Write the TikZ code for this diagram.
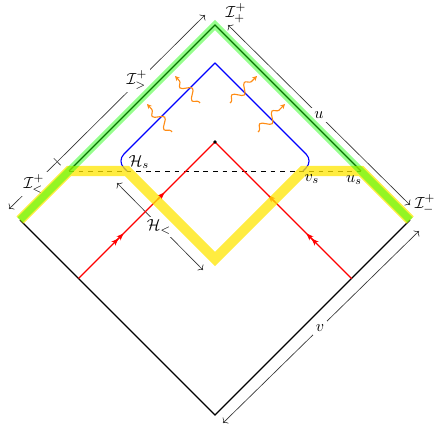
\documentclass[tikz,border=0pt]{standalone}
\usetikzlibrary{arrows.meta,decorations.pathmorphing,calc}
\definecolor{hlyellow}{RGB}{255,230,0}
\definecolor{waveorange}{RGB}{255,140,20}
\begin{document}
\begin{tikzpicture}[x=0.625pt,y=-0.625pt,
  edge/.style={line width=0.7pt,black},
  glowgreen/.style={line width=4.6pt,green!90!lime,opacity=0.45,line join=miter},
  glowyellow/.style={line width=6.4pt,hlyellow,opacity=0.75,line join=miter},
  meas/.style={line width=0.4pt,black!80},
  lbl/.style={fill=white,inner sep=2pt},
  txt/.style={inner sep=1pt},
  redline/.style={red,line width=0.7pt},
  onetip/.style={red,line width=0.7pt,-{Stealth[length=4.5pt,width=3.4pt]}},
  twotip/.style={red,line width=0.7pt,-{Stealth[length=4.5pt,width=3.4pt]Stealth[length=4.5pt,width=3.4pt]}},
  wave/.style={waveorange,line width=0.7pt,decorate,
    decoration={snake,amplitude=2.8pt,segment length=11pt,pre length=1pt,post length=2.5pt},
    -{Stealth[length=3pt,width=3pt]}}
]
\useasboundingbox (0,0) rectangle (440,433);
% key points
\coordinate (L) at (20,220);
\coordinate (T) at (215,25);
\coordinate (R) at (410,220);
\coordinate (B) at (215,415);
\coordinate (HL) at (69,171);
\coordinate (HR) at (361,171);
\coordinate (Hs) at (127,171);
\coordinate (vs) at (303,171);
\coordinate (V) at (215,259);
\coordinate (Rt) at (215,142);
\coordinate (RL) at (78.5,278.5);
\coordinate (RR) at (351.5,278.5);
\coordinate (bl1) at (117,161);
\coordinate (btop) at (215,63);
\coordinate (br1) at (313,161);
% measurement arrows
\coordinate (tk) at (57,162);
\coordinate (a1) at (205,15);
\coordinate (a2) at (9,209);
\coordinate (u1) at (228,25);
\coordinate (u2) at (410,205);
\coordinate (v1) at (223,423);
\coordinate (v2) at (419,231);
\coordinate (h1) at (117,183);
\coordinate (h2) at (203,270);
\draw[meas,{Bar[width=6pt]}-{To}] (tk) -- (a1);
\draw[meas,-{To}] (tk) -- (a2);
\draw[meas,{To}-{To}] (u1) -- (u2);
\draw[meas,{To}-{To}] (v1) -- (v2);
\draw[meas,{To}-{To}] (h1) -- (h2);
\node[lbl] (lgt) at (137,80) {$\mathcal{I}^+_>$};
\node[lbl] (llt) at (34,184) {$\mathcal{I}^+_<$};
\node[lbl] (lu) at (319,115) {$u$};
\node[lbl] (lv) at (320,328) {$v$};
\node[lbl] (lh) at (159,227) {$\mathcal{H}_<$};
% diagram
\draw[edge] (HL) -- (T) -- (HR);
\draw[edge] (L) -- (B) -- (R);
\draw[black,line width=0.6pt,dashed] (HL) -- (HR);
\draw[blue,line width=0.7pt,rounded corners=6pt,line cap=round] (Hs) -- (bl1) -- (btop);
\draw[blue,line width=0.7pt,rounded corners=6pt,line cap=round] (btop) -- (br1) -- (vs);
\draw[redline] (RL) -- (Rt);
\draw[redline] (RR) -- (Rt);
\draw[twotip] ($(RL)!0.26!(Rt)$) -- ($(RL)!0.33!(Rt)$);
\draw[onetip] ($(RL)!0.58!(Rt)$) -- ($(RL)!0.63!(Rt)$);
\draw[twotip] ($(RR)!0.26!(Rt)$) -- ($(RR)!0.33!(Rt)$);
\draw[onetip] ($(RR)!0.56!(Rt)$) -- ($(RR)!0.61!(Rt)$);
\fill (Rt) circle (1.1pt);
% orange waves
\coordinate (w1a) at (172,132); \coordinate (w1b) at (147,104);
\coordinate (w2a) at (200,103); \coordinate (w2b) at (175,76);
\coordinate (w3a) at (230,103); \coordinate (w3b) at (257,76);
\coordinate (w4a) at (258,132); \coordinate (w4b) at (285,104);
\draw[wave] (w1a) -- (w1b);
\draw[wave] (w2a) -- (w2b);
\draw[wave] (w3a) -- (w3b);
\draw[wave] (w4a) -- (w4b);
% highlights
\draw[glowyellow] (L) -- (HL) -- (Hs) -- (V) -- (vs) -- (HR) -- (R);
\draw[glowgreen] (L) -- (T) -- (R);
% labels
\node[txt] (lpp) at (236,13) {$\mathcal{I}^+_+$};
\node[txt] (lpm) at (425,204) {$\mathcal{I}^+_-$};
\node[txt] (lhs) at (139,162) {$\mathcal{H}_s$};
\node[txt] (lvs) at (312,179) {$v_s$};
\node[txt] (lus) at (354,180) {$u_s$};
\end{tikzpicture}
\end{document}
